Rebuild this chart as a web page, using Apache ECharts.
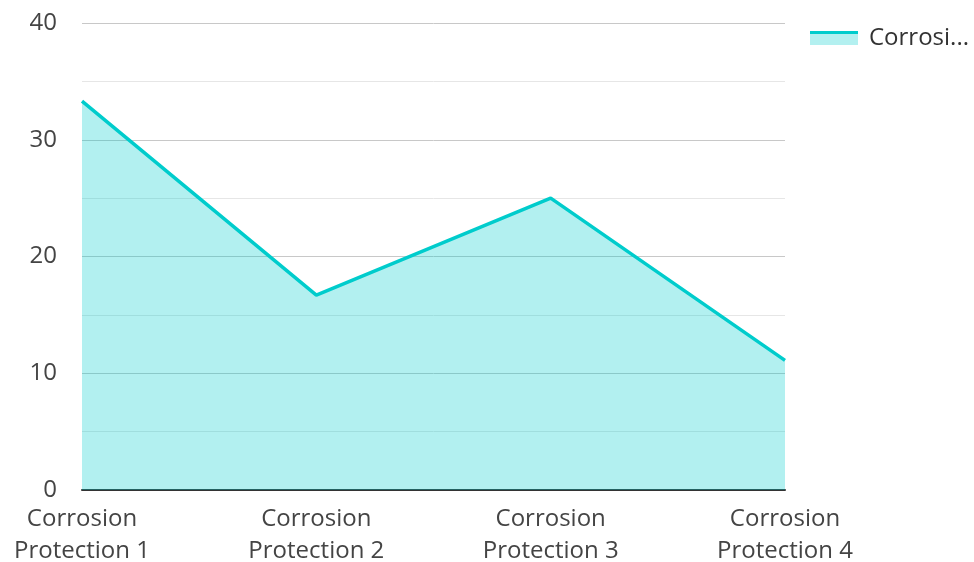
<!DOCTYPE html>
<html><head><meta charset="utf-8">
<script src="https://cdn.jsdelivr.net/npm/echarts@6/dist/echarts.min.js"></script>
<style>html,body{margin:0;padding:0;background:#fff}#c{width:974px;height:562px}</style>
</head><body><div id="c"></div>
<script>
const categories = ['Corrosion\nProtection 1', 'Corrosion\nProtection 2', 'Corrosion\nProtection 3', 'Corrosion\nProtection 4'];
const seriesName = 'Corrosion Rate';
const values = [33.3, 16.7, 25.0, 11.1];
const yTicks = [0, 10, 20, 30, 40];

const chart = echarts.init(document.getElementById('c'));
chart.setOption({
  animation: false,
  textStyle: { fontFamily: 'Open Sans' },
  grid: { left: 82, right: 189, top: 23, bottom: 72, containLabel: false, outerBoundsMode: 'none' },
  legend: {
    left: 810, top: 26, padding: 0,
    itemWidth: 48, itemHeight: 14,
    icon: 'rect',
    itemStyle: {
      color: new echarts.graphic.LinearGradient(0, 0, 0, 1, [
        { offset: 0, color: '#00cccc' }, { offset: 0.22, color: '#00cccc' },
        { offset: 0.22, color: '#b3f0f0' }, { offset: 1, color: '#b3f0f0' }
      ])
    },
    textStyle: { fontSize: 24, color: '#333', fontFamily: 'Open Sans', width: 107, overflow: 'truncate', ellipsis: '...', padding: [0, 0, 0, 6] },
    data: [seriesName]
  },
  xAxis: {
    type: 'category', data: categories, boundaryGap: false,
    axisLine: { lineStyle: { color: '#333', width: 2 } },
    axisTick: { show: false },
    axisLabel: { fontSize: 24, color: '#444', lineHeight: 32, margin: 13, interval: 0 },
    splitLine: { show: false }
  },
  yAxis: {
    type: 'value', min: yTicks[0], max: yTicks[yTicks.length - 1], interval: 10,
    axisLine: { show: false }, axisTick: { show: false },
    axisLabel: { fontSize: 24, color: '#444', margin: 25 },
    splitLine: { lineStyle: { color: '#c8c8c8', width: 1 } },
    minorTick: { show: false, splitNumber: 2 },
    minorSplitLine: { show: true, lineStyle: { color: '#e6e6e6', width: 1 } }
  },
  series: [{
    name: seriesName, type: 'line', data: values,
    showSymbol: false, symbol: 'none',
    lineStyle: { color: '#00cccc', width: 3.5 },
    itemStyle: { color: '#00cccc' },
    areaStyle: { color: '#00cccc', opacity: 0.3 },
    z: 1
  }]
});
</script></body></html>
